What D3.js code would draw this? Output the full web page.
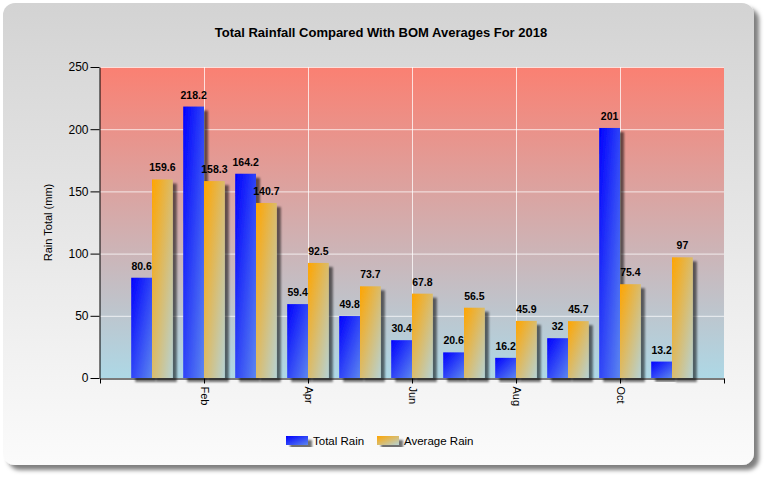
<!DOCTYPE html>
<html><head><meta charset="utf-8">
<script src="https://cdn.jsdelivr.net/npm/d3@7"></script>
<style>body{margin:0;background:#fff}svg{display:block}text{font-family:"Liberation Sans",Arial,sans-serif}</style>
</head><body>
<svg id="c" width="769" height="481"></svg>
<script>
const months = ["Jan","Feb","Mar","Apr","May","Jun","Jul","Aug","Sep","Oct","Nov"];
const monthIndex = [1,2,3,4,5,6,7,8,9,10,11];
const totalRain = [80.6,218.2,164.2,59.4,49.8,30.4,20.6,16.2,32,201,13.2];
const averageRain = [159.6,158.3,140.7,92.5,73.7,67.8,56.5,45.9,45.7,75.4,97];
const xTickValues = [0,2,4,6,8,10,12];
const xTickLabels = ["","Feb","Apr","Jun","Aug","Oct",""];
const yTickValues = [0,50,100,150,200,250];
const seriesNames = ["Total Rain","Average Rain"];
const chartTitle = "Total Rainfall Compared With BOM Averages For 2018";
const yTitle = "Rain Total (mm)";

const svg = d3.select("#c");
const defs = svg.append("defs");

function lin(id, x1,y1,x2,y2, stops){
  const g = defs.append("linearGradient").attr("id",id)
    .attr("x1",x1).attr("y1",y1).attr("x2",x2).attr("y2",y2);
  stops.forEach(s=>g.append("stop").attr("offset",s[0]).attr("stop-color",s[1]));
}
lin("cardG",0,0,0,1,[[0,"#d3d3d3"],[1,"#fbfbfb"]]);
lin("plotG",0,0,0,1,[[0,"#fa8072"],[1,"#add8e6"]]);
lin("blueG",0,0,1,1,[[0,"#0000ff"],[1,"#5c86ef"]]);
lin("orangeG",0,0,1,1,[[0,"#ffa500"],[1,"#b6d2d4"]]);

const f1 = defs.append("filter").attr("id","cardS").attr("x","-5%").attr("y","-5%").attr("width","115%").attr("height","115%");
f1.append("feDropShadow").attr("dx",5).attr("dy",5).attr("stdDeviation",2).attr("flood-color","#000").attr("flood-opacity",0.5);
const f2 = defs.append("filter").attr("id","barS").attr("x","-50%").attr("y","-10%").attr("width","200%").attr("height","130%");
f2.append("feDropShadow").attr("dx",4).attr("dy",4).attr("stdDeviation",1).attr("flood-color","#000").attr("flood-opacity",0.55);

// card
svg.append("rect").attr("x",3).attr("y",3).attr("width",751).attr("height",462).attr("rx",12)
  .attr("fill","url(#cardG)").attr("filter","url(#cardS)");

const x = d3.scaleLinear().domain([0,12]).range([100,724]);
const y = d3.scaleLinear().domain([0,250]).range([378,67]);

svg.append("rect").attr("x",x(0)).attr("y",y(250)).attr("width",x(12)-x(0)).attr("height",y(0)-y(250))
  .attr("fill","url(#plotG)");

// grid
svg.append("g").selectAll("line").data(yTickValues.filter(d=>d>0)).join("line")
  .attr("x1",x(0)).attr("x2",x(12)).attr("y1",d=>y(d)+0.5).attr("y2",d=>y(d)+0.5)
  .attr("stroke","#fff").attr("stroke-opacity",0.75);
svg.append("g").selectAll("line").data(xTickValues.filter(d=>d>0&&d<12)).join("line")
  .attr("y1",y(0)).attr("y2",y(250)).attr("x1",d=>x(d)+0.5).attr("x2",d=>x(d)+0.5)
  .attr("stroke","#fff").attr("stroke-opacity",0.75);

const barW = x(0.4)-x(0);
const rows = monthIndex.map((m,i)=>({m, t:totalRain[i], a:averageRain[i]}));

const bars = svg.append("g");
rows.forEach(r=>{
  bars.append("rect").attr("x",x(r.m)-barW).attr("y",y(r.t)).attr("width",barW).attr("height",y(0)-y(r.t))
    .attr("fill","url(#blueG)").attr("filter","url(#barS)");
  bars.append("rect").attr("x",x(r.m)).attr("y",y(r.a)).attr("width",barW).attr("height",y(0)-y(r.a))
    .attr("fill","url(#orangeG)").attr("filter","url(#barS)");
});

const labels = svg.append("g").attr("font-size","10.5px").attr("font-weight","bold").attr("text-anchor","middle").attr("fill","#000");
rows.forEach(r=>{
  labels.append("text").attr("x",x(r.m)-barW/2).attr("y",y(r.t)-8).text(String(r.t));
  labels.append("text").attr("x",x(r.m)+barW/2).attr("y",y(r.a)-8).text(String(r.a));
});

// axes
const ya = svg.append("g").attr("transform",`translate(${x(0)-0.5},0)`)
  .call(d3.axisLeft(y).tickValues(yTickValues).tickSize(9).tickPadding(2).tickSizeOuter(0));
ya.selectAll("text").attr("font-size","12px").attr("font-family","Liberation Sans, Arial, sans-serif").attr("fill","#000");
ya.select(".domain").attr("stroke","#000");

const xa = svg.append("g").attr("transform",`translate(0,${y(0)+0.5})`)
  .call(d3.axisBottom(x).tickValues(xTickValues).tickSize(5).tickSizeOuter(0).tickFormat((d,i)=>xTickLabels[i]));
xa.selectAll("text").attr("font-size","11px").attr("font-family","Liberation Sans, Arial, sans-serif").attr("fill","#000")
  .attr("transform","rotate(90)").attr("x",8).attr("y",0).attr("dy","0.35em").style("text-anchor","start");
xa.select(".domain").attr("stroke","#000");

// title
svg.append("text").attr("x",381).attr("y",37).attr("text-anchor","middle")
  .attr("font-size","13px").attr("font-weight","bold").attr("fill","#000").text(chartTitle);
svg.append("text").attr("transform",`translate(52,${(y(0)+y(250))/2}) rotate(-90)`).attr("text-anchor","middle")
  .attr("font-size","11px").attr("fill","#000").text(yTitle);

// legend
const lg = svg.append("g");
const legendItems = [{x:286, fill:"url(#blueG)", name:seriesNames[0]},{x:377, fill:"url(#orangeG)", name:seriesNames[1]}];
legendItems.forEach(it=>{
  lg.append("rect").attr("x",it.x).attr("y",436).attr("width",22).attr("height",9).attr("fill",it.fill).attr("filter","url(#barS)");
  lg.append("text").attr("x",it.x+27).attr("y",445).attr("font-size","11.5px").attr("fill","#000").text(it.name);
});
</script>
</body></html>
